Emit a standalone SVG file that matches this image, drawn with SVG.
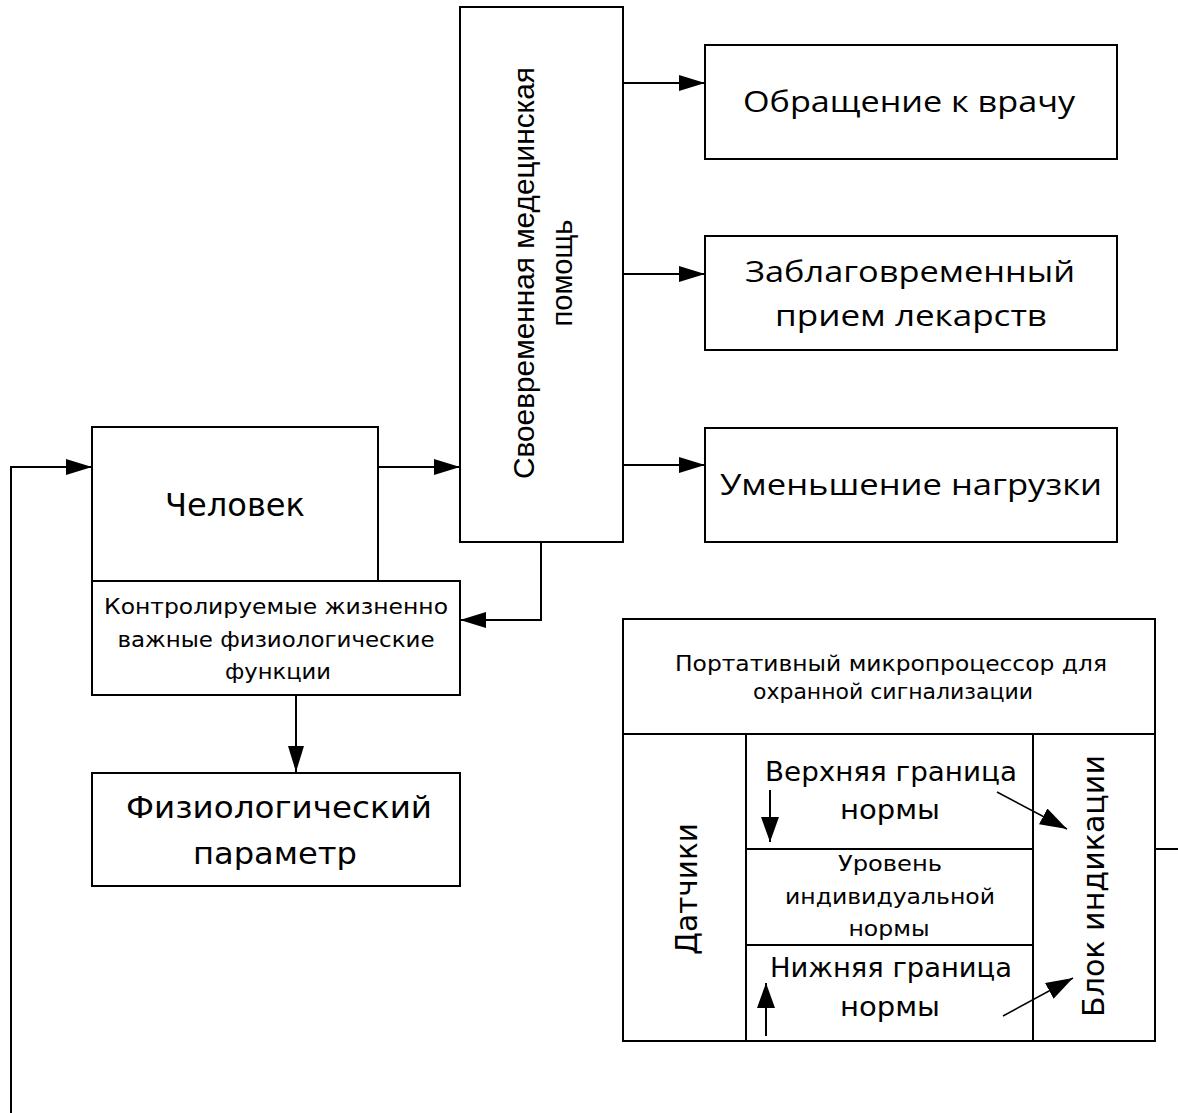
<svg xmlns="http://www.w3.org/2000/svg" width="1178" height="1113" viewBox="0 0 1178 1113">
  <style>
    .box { fill: #fff; stroke: #000; stroke-width: 2; }
    .ln { fill: none; stroke: #000; stroke-width: 2; }
    .thin { fill: none; stroke: #000; stroke-width: 1.5; }
    .dv { font-family: "DejaVu Sans", "Noto Sans", sans-serif; fill: #000; text-anchor: middle; }
    .cal { font-family: "Open Sans", "Liberation Sans", sans-serif; fill: #000; text-anchor: middle; }
    .ar { font-family: "Liberation Sans", Arial, sans-serif; fill: #000; text-anchor: middle; }
  </style>
  <defs>
    <marker id="arr" markerUnits="userSpaceOnUse" markerWidth="26" markerHeight="16" viewBox="0 0 26 16" refX="26" refY="8" orient="auto">
      <path d="M0,0 L26,8 L0,16 z" fill="#000"/>
    </marker>
    <marker id="arri" markerUnits="userSpaceOnUse" markerWidth="25" markerHeight="18" viewBox="0 0 25 18" refX="25" refY="9" orient="auto">
      <path d="M0,0 L25,9 L0,18 z" fill="#000"/>
    </marker>
    <marker id="arrs" markerUnits="userSpaceOnUse" markerWidth="27" markerHeight="18" viewBox="0 0 27 18" refX="27" refY="9" orient="auto">
      <path d="M0,0 L27,9 L0,18 z" fill="#000"/>
    </marker>
  </defs>
  <rect width="1178" height="1113" fill="#fff"/>

  <!-- Человек -->
  <g id="person">
    <rect class="box" x="92" y="427" width="286" height="154"/>
    <text class="dv" x="235" y="516" font-size="32" textLength="140" lengthAdjust="spacingAndGlyphs">Человек</text>
  </g>

  <!-- monitored vital functions -->
  <g id="vital-functions">
    <rect class="box" x="92" y="581" width="368" height="114"/>
    <text class="dv" font-size="22" x="276" y="614" textLength="344" lengthAdjust="spacingAndGlyphs">Контролируемые жизненно</text>
    <text class="dv" font-size="22" x="276" y="647" textLength="317" lengthAdjust="spacingAndGlyphs">важные физиологические</text>
    <text class="dv" font-size="22" x="278" y="679" textLength="106" lengthAdjust="spacingAndGlyphs">функции</text>
  </g>

  <!-- physiological parameter -->
  <g id="parameter">
    <rect class="box" x="92" y="773" width="368" height="113"/>
    <text class="dv" font-size="30" x="279" y="818" textLength="306" lengthAdjust="spacingAndGlyphs">Физиологический</text>
    <text class="dv" font-size="30" x="275" y="864" textLength="164" lengthAdjust="spacingAndGlyphs">параметр</text>
  </g>

  <!-- timely medical help (vertical) -->
  <g id="medical-help">
    <rect class="box" x="460" y="7" width="163" height="535"/>
    <text class="ar" font-size="29" transform="translate(534,273) rotate(-90)" textLength="412" lengthAdjust="spacingAndGlyphs">Своевременная медецинская</text>
    <text class="ar" font-size="29" transform="translate(572,273) rotate(-90)">помощь</text>
  </g>

  <!-- outcomes -->
  <g id="doctor">
    <rect class="box" x="705" y="45" width="412" height="114"/>
    <text class="cal" font-size="29" x="909" y="112" textLength="332" lengthAdjust="spacingAndGlyphs">Обращение к врачу</text>
  </g>
  <g id="medication">
    <rect class="box" x="705" y="236" width="412" height="114"/>
    <text class="cal" font-size="29" x="910" y="282" textLength="330" lengthAdjust="spacingAndGlyphs">Заблаговременный</text>
    <text class="cal" font-size="29" x="911" y="326" textLength="272" lengthAdjust="spacingAndGlyphs">прием лекарств</text>
  </g>
  <g id="load">
    <rect class="box" x="705" y="428" width="412" height="114"/>
    <text class="cal" font-size="29" x="911" y="495" textLength="382" lengthAdjust="spacingAndGlyphs">Уменьшение нагрузки</text>
  </g>

  <!-- portable microprocessor -->
  <g id="microprocessor">
    <rect class="box" x="623" y="619" width="532" height="422"/>
    <line class="ln" x1="623" y1="734" x2="1155" y2="734"/>
    <text class="dv" font-size="22" x="891" y="671" textLength="432" lengthAdjust="spacingAndGlyphs">Портативный микропроцессор для</text>
    <text class="dv" font-size="22" x="893" y="699" textLength="280" lengthAdjust="spacingAndGlyphs">охранной сигнализации</text>
  </g>
  <g id="sensors">
    <line class="ln" x1="746" y1="734" x2="746" y2="1041"/>
    <text class="dv" font-size="31" transform="translate(697,889) rotate(-90)" textLength="132" lengthAdjust="spacingAndGlyphs">Датчики</text>
  </g>
  <g id="upper-limit">
    <text class="dv" font-size="26" x="891" y="781" textLength="252" lengthAdjust="spacingAndGlyphs">Верхняя граница</text>
    <text class="dv" font-size="26" x="890" y="819" textLength="100" lengthAdjust="spacingAndGlyphs">нормы</text>
  </g>
  <g id="individual-level">
    <line class="ln" x1="746" y1="849" x2="1033" y2="849"/>
    <line class="ln" x1="746" y1="945" x2="1033" y2="945"/>
    <text class="dv" font-size="22" x="890" y="871" textLength="104" lengthAdjust="spacingAndGlyphs">Уровень</text>
    <text class="dv" font-size="22" x="890" y="904" textLength="210" lengthAdjust="spacingAndGlyphs">индивидуальной</text>
    <text class="dv" font-size="22" x="889" y="936" textLength="81" lengthAdjust="spacingAndGlyphs">нормы</text>
  </g>
  <g id="lower-limit">
    <text class="dv" font-size="26" x="891" y="977" textLength="242" lengthAdjust="spacingAndGlyphs">Нижняя граница</text>
    <text class="dv" font-size="26" x="890" y="1016" textLength="100" lengthAdjust="spacingAndGlyphs">нормы</text>
  </g>
  <g id="indication">
    <line class="ln" x1="1033" y1="734" x2="1033" y2="1041"/>
    <text class="dv" font-size="31" transform="translate(1104,886) rotate(-90)" textLength="262" lengthAdjust="spacingAndGlyphs">Блок индикации</text>
  </g>

  <!-- connectors -->
  <g id="connectors">
    <polyline class="ln" points="11,1113 11,467 92,467" marker-end="url(#arr)"/>
    <line class="ln" x1="378" y1="467" x2="460" y2="467" marker-end="url(#arr)"/>
    <line class="ln" x1="623" y1="83" x2="705" y2="83" marker-end="url(#arr)"/>
    <line class="ln" x1="623" y1="274" x2="705" y2="274" marker-end="url(#arr)"/>
    <line class="ln" x1="623" y1="465" x2="705" y2="465" marker-end="url(#arr)"/>
    <polyline class="ln" points="541,542 541,620 460,620" marker-end="url(#arr)"/>
    <line class="ln" x1="296" y1="695" x2="296" y2="772" marker-end="url(#arr)"/>
    <line class="ln" x1="1155" y1="849" x2="1178" y2="849"/>
    <line class="ln" x1="770" y1="790" x2="770" y2="842" marker-end="url(#arri)"/>
    <line class="ln" x1="766" y1="1036" x2="766" y2="983" marker-end="url(#arri)"/>
    <line class="thin" x1="997" y1="792" x2="1067" y2="829" marker-end="url(#arrs)"/>
    <line class="thin" x1="1003" y1="1016" x2="1073" y2="978" marker-end="url(#arrs)"/>
  </g>
</svg>
